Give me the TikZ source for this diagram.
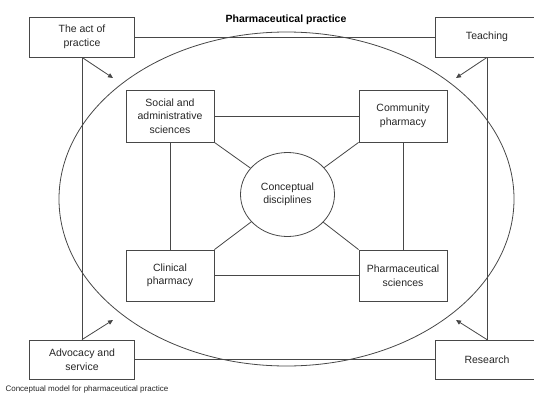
\documentclass[tikz,border=0pt]{standalone}
\usepackage{fontspec}
\setmainfont{Liberation Sans}
\usetikzlibrary{arrows.meta,shapes.geometric}
\begin{document}
\begin{tikzpicture}[x=1pt,y=-1pt,
  ln/.style={draw=black!72,line width=0.8pt},
  box/.style={ln,rectangle,inner sep=0pt,align=center,font=\fontsize{10.5}{13.5}\selectfont,text=black!85},
  arr/.style={ln,-{Triangle[length=5pt,width=4.5pt]}}]
\useasboundingbox (0,0) rectangle (534,396);
\clip (0,0) rectangle (534,396);
% outer ellipse
\node[ln,ellipse,minimum width=455,minimum height=334,inner sep=0pt] (ell) at (286.5,199) {};
\node[font=\bfseries\fontsize{10.5}{12}\selectfont] (title) at (286,20) {Pharmaceutical practice};
% corner boxes
\node[box,minimum width=105,minimum height=40] (act) at (82,37) {The act of\\practice};
\node[box,minimum width=104,minimum height=40] (teach) at (487,37) {Teaching};
\node[box,minimum width=105,minimum height=39] (adv) at (82,359.5) {Advocacy and\\service};
\node[box,minimum width=104,minimum height=39] (res) at (487,359.5) {Research};
% frame lines
\draw[ln] (act.east) -- (teach.west);
\draw[ln] (adv.east) -- (res.west);
\draw[ln] (act.south) -- (adv.north);
\draw[ln] (teach.south) -- (res.north);
% arrows
\coordinate (a1) at (113,78);
\coordinate (a2) at (456,78);
\coordinate (a3) at (113,320);
\coordinate (a4) at (456,320);
\draw[arr] (act.south) -- (a1);
\draw[arr] (teach.south) -- (a2);
\draw[arr] (adv.north) -- (a3);
\draw[arr] (res.north) -- (a4);
% inner boxes
\node[box,minimum width=88,minimum height=52] (soc) at (170,116) {Social and\\administrative\\sciences};
\node[box,minimum width=88,minimum height=52] (com) at (403,116) {Community\\pharmacy};
\node[box,minimum width=88,minimum height=51] (cli) at (170,275.5) {Clinical\\pharmacy};
\node[box,minimum width=88,minimum height=51] (phs) at (403,275.5) {Pharmaceutical\\sciences};
\node[box,ellipse,minimum width=94,minimum height=84] (cd) at (287.5,194.5) {Conceptual\\disciplines};
\draw[ln] (soc) -- (com);
\draw[ln] (cli) -- (phs);
\draw[ln] (soc) -- (cli);
\draw[ln] (com) -- (phs);
\draw[ln] (soc.south east) -- (cd);
\draw[ln] (com.south west) -- (cd);
\draw[ln] (cli.north east) -- (cd);
\draw[ln] (phs.north west) -- (cd);
% caption
\node[anchor=west,font=\fontsize{8}{9}\selectfont,text=black!85] (cap) at (2,389) {Conceptual model for pharmaceutical practice};
\end{tikzpicture}
\end{document}
